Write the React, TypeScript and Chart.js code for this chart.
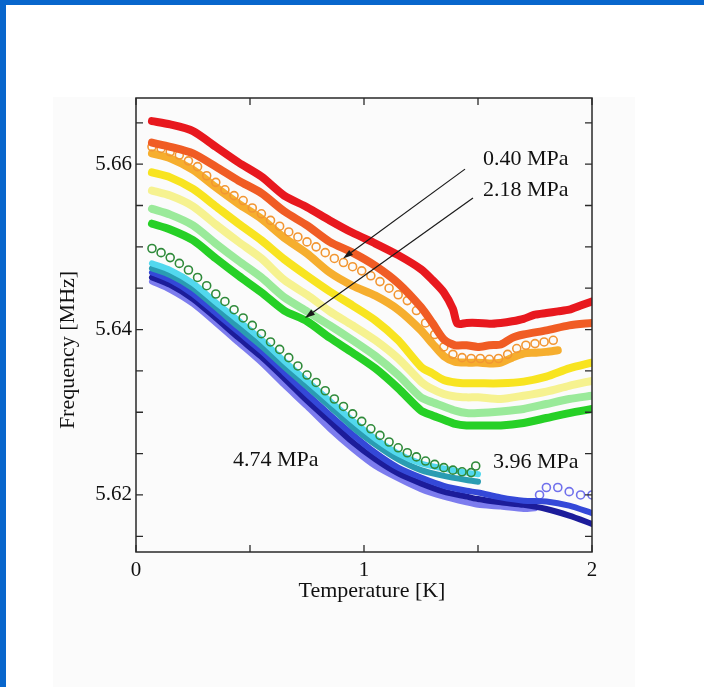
import { useEffect, useRef } from "react";
import { Chart, registerables } from "chart.js";

Chart.register(...registerables);

const FONT = '"Liberation Serif", "Times New Roman", serif';

// ---- temperature grids (K) ----
const T_STD = [0.07, 0.15, 0.25, 0.35, 0.45, 0.55, 0.65, 0.75, 0.85, 0.95, 1.05, 1.15, 1.25, 1.3, 1.35, 1.4, 1.45, 1.5, 1.6, 1.7, 1.8, 1.9, 2.0];
const T_RED = [0.07, 0.15, 0.25, 0.35, 0.45, 0.55, 0.65, 0.75, 0.85, 0.95, 1.05, 1.15, 1.25, 1.3, 1.35, 1.39, 1.41, 1.45, 1.5, 1.55, 1.6, 1.65, 1.7, 1.75, 1.8, 1.85, 1.9, 1.95, 2.0];
const T_ORANGE_RED = [0.07, 0.15, 0.25, 0.35, 0.45, 0.55, 0.65, 0.75, 0.85, 0.95, 1.05, 1.15, 1.25, 1.3, 1.35, 1.4, 1.45, 1.5, 1.55, 1.6, 1.65, 1.7, 1.8, 1.9, 2.0];
const T_AMBER = [0.07, 0.15, 0.25, 0.35, 0.45, 0.55, 0.65, 0.75, 0.85, 0.95, 1.05, 1.15, 1.25, 1.3, 1.35, 1.4, 1.45, 1.5, 1.55, 1.6, 1.65, 1.7, 1.75, 1.8, 1.85];
const T_FINE = [0.07, 0.11, 0.15, 0.19, 0.23, 0.27, 0.31, 0.35, 0.39, 0.43, 0.47, 0.51, 0.55, 0.59, 0.63, 0.67, 0.71, 0.75, 0.79, 0.83, 0.87, 0.91, 0.95, 0.99, 1.03, 1.07, 1.11, 1.15, 1.19, 1.23, 1.27, 1.31, 1.35, 1.39, 1.43, 1.47, 1.51, 1.55, 1.59, 1.63, 1.67, 1.71, 1.75, 1.79, 1.83];
const T_DARK_GREEN = [0.07, 0.11, 0.15, 0.19, 0.23, 0.27, 0.31, 0.35, 0.39, 0.43, 0.47, 0.51, 0.55, 0.59, 0.63, 0.67, 0.71, 0.75, 0.79, 0.83, 0.87, 0.91, 0.95, 0.99, 1.03, 1.07, 1.11, 1.15, 1.19, 1.23, 1.27, 1.31, 1.35, 1.39, 1.43, 1.47, 1.49];
const T_LOW = [0.07, 0.15, 0.25, 0.35, 0.45, 0.55, 0.65, 0.75, 0.85, 0.95, 1.05, 1.15, 1.25, 1.35, 1.45, 1.5];
const T_LOW_LONG = [0.07, 0.15, 0.25, 0.35, 0.45, 0.55, 0.65, 0.75, 0.85, 0.95, 1.05, 1.15, 1.25, 1.35, 1.45, 1.5, 1.6, 1.7, 1.8, 1.9, 2.0];
const T_VIOLET = [0.07, 0.15, 0.25, 0.35, 0.45, 0.55, 0.65, 0.75, 0.85, 0.95, 1.05, 1.15, 1.25, 1.35, 1.45, 1.5, 1.6, 1.7, 1.75];
const T_VIOLET_TAIL = [1.77, 1.8, 1.85, 1.9, 1.95, 2.0];

// ---- resonance frequency (MHz) ----
const F_RED = [5.6652, 5.6648, 5.664, 5.6621, 5.6602, 5.6585, 5.6562, 5.6548, 5.6532, 5.6517, 5.6504, 5.649, 5.6473, 5.646, 5.6445, 5.6425, 5.6407, 5.6408, 5.6408, 5.6407, 5.6408, 5.641, 5.6413, 5.6418, 5.642, 5.6422, 5.6424, 5.6429, 5.6434];
const F_ORANGE_RED = [5.6626, 5.6621, 5.6613, 5.6597, 5.658, 5.6565, 5.6543, 5.6526, 5.6506, 5.6493, 5.6477, 5.6456, 5.6427, 5.6408, 5.6388, 5.6381, 5.6381, 5.6379, 5.6381, 5.6382, 5.639, 5.6394, 5.6399, 5.6405, 5.6408];
const F_ORANGE_OPEN = [5.6621, 5.6619, 5.6615, 5.6611, 5.6604, 5.6597, 5.6586, 5.6578, 5.6569, 5.6562, 5.6556, 5.6547, 5.654, 5.6532, 5.6525, 5.6518, 5.6512, 5.6506, 5.65, 5.6493, 5.6486, 5.6481, 5.6476, 5.6471, 5.6465, 5.6458, 5.645, 5.6442, 5.6435, 5.6423, 5.6408, 5.6394, 5.6379, 5.637, 5.6366, 5.6365, 5.6365, 5.6364, 5.6365, 5.637, 5.6377, 5.6381, 5.6383, 5.6385, 5.6387];
const F_AMBER = [5.6613, 5.6607, 5.6593, 5.6572, 5.6552, 5.6534, 5.6511, 5.6492, 5.6469, 5.6453, 5.6441, 5.6424, 5.6399, 5.6383, 5.6368, 5.6361, 5.636, 5.636, 5.6359, 5.636, 5.6366, 5.6371, 5.6372, 5.6373, 5.6375];
const F_YELLOW = [5.659, 5.6584, 5.657, 5.6549, 5.6528, 5.6508, 5.6485, 5.6465, 5.6446, 5.6429, 5.6411, 5.6387, 5.6355, 5.6347, 5.6339, 5.6336, 5.6335, 5.6335, 5.6335, 5.6337, 5.6343, 5.6353, 5.636];
const F_PALE_YELLOW = [5.6568, 5.6562, 5.6549, 5.6527, 5.6506, 5.6486, 5.646, 5.6442, 5.6422, 5.6405, 5.6387, 5.6365, 5.6337, 5.6328, 5.6322, 5.6319, 5.6318, 5.6318, 5.6316, 5.632, 5.6325, 5.6332, 5.6338];
const F_LIGHT_GREEN = [5.6546, 5.6539, 5.6526, 5.6504, 5.6483, 5.6463, 5.6439, 5.6422, 5.6405, 5.6387, 5.6368, 5.6345, 5.6318, 5.6312, 5.6307, 5.6302, 5.6299, 5.6299, 5.6301, 5.6304, 5.631, 5.6316, 5.632];
const F_GREEN = [5.6528, 5.6521, 5.6508, 5.6486, 5.6465, 5.6445, 5.6423, 5.641, 5.639, 5.6372, 5.6353, 5.6329, 5.6302, 5.6296, 5.6291, 5.6286, 5.6284, 5.6284, 5.6284, 5.6287, 5.6293, 5.6299, 5.6304];
const F_DARK_GREEN = [5.6498, 5.6493, 5.6487, 5.648, 5.6472, 5.6463, 5.6453, 5.6443, 5.6434, 5.6424, 5.6414, 5.6405, 5.6395, 5.6385, 5.6376, 5.6366, 5.6356, 5.6345, 5.6336, 5.6326, 5.6316, 5.6307, 5.6298, 5.6289, 5.628, 5.6272, 5.6264, 5.6257, 5.6251, 5.6246, 5.6241, 5.6237, 5.6233, 5.623, 5.6228, 5.6227, 5.6235];
const F_CYAN = [5.648, 5.6472, 5.6456, 5.6433, 5.6411, 5.6388, 5.6362, 5.6338, 5.6314, 5.629, 5.6268, 5.625, 5.6238, 5.6232, 5.6227, 5.6225];
const F_TEAL = [5.6474, 5.6466, 5.645, 5.6427, 5.6403, 5.638, 5.6355, 5.6331, 5.6307, 5.6282, 5.6261, 5.6243, 5.623, 5.6223, 5.6218, 5.6216];
const F_BLUE = [5.6469, 5.646, 5.6443, 5.642, 5.6397, 5.6374, 5.6348, 5.6322, 5.6297, 5.6273, 5.6251, 5.6233, 5.6221, 5.6211, 5.6205, 5.6203, 5.6197, 5.6193, 5.6192, 5.6187, 5.6178];
const F_NAVY = [5.6463, 5.6454, 5.6437, 5.6414, 5.639, 5.6367, 5.6341, 5.6314, 5.6289, 5.6264, 5.6243, 5.6226, 5.6214, 5.6204, 5.6198, 5.6195, 5.6191, 5.6188, 5.6183, 5.6175, 5.6165];
const F_VIOLET = [5.6458, 5.6448, 5.6431, 5.6408, 5.6384, 5.636, 5.6333, 5.6307, 5.628, 5.6256, 5.6235, 5.622, 5.6207, 5.6198, 5.6191, 5.6188, 5.6186, 5.6183, 5.6184];
const F_VIOLET_TAIL = [5.62, 5.6209, 5.6209, 5.6204, 5.62, 5.62];

// ---- axes ----
const X_MIN = 0;
const X_MAX = 2;
const X_STEP = 0.5;
const Y_MIN = 5.6131;
const Y_MAX = 5.668;
const Y_STEP = 0.005;
const Y_LABEL_STEP = 0.02;
const X_TITLE = "Temperature [K]";
const Y_TITLE = "Frequency [MHz]";

// ---- annotations (data coordinates) ----
const LABELS = [
  { text: "0.40 MPa", t: 1.522, f: 5.6606 },
  { text: "2.18 MPa", t: 1.522, f: 5.6568 },
  { text: "4.74 MPa", t: 0.425, f: 5.6242 },
  { text: "3.96 MPa", t: 1.566, f: 5.624 },
];
const ARROWS = [
  { from: [1.443, 5.6594], to: [0.908, 5.6486] },
  { from: [1.478, 5.6559], to: [0.741, 5.6414] },
];

const pts = (ts: number[], fs: number[]) => fs.map((f, i) => ({ x: ts[i], y: f }));

function band(data: { x: number; y: number }[], color: string, width = 8) {
  return {
    data,
    showLine: true,
    borderColor: color,
    borderWidth: width,
    borderCapStyle: "round" as const,
    borderJoinStyle: "round" as const,
    tension: 0.25,
    pointRadius: 0,
    fill: false,
  };
}

function rings(data: { x: number; y: number }[], color: string) {
  return {
    data,
    showLine: false,
    borderColor: color,
    backgroundColor: "rgba(255,255,255,0)",
    pointRadius: 4,
    pointBorderWidth: 1.6,
    pointBorderColor: color,
    pointBackgroundColor: "rgba(255,255,255,0)",
    fill: false,
  };
}

const isLabelled = (v: number) => {
  const k = Math.round(v / Y_LABEL_STEP);
  return Math.abs(v - k * Y_LABEL_STEP) < 1e-6;
};

const framePlugin = {
  id: "frameAndNotes",
  afterDatasetsDraw(chart: any) {
    const { ctx, chartArea: a, scales } = chart;
    const x = scales.x;
    const y = scales.y;
    ctx.save();

    // frame and inward ticks
    ctx.strokeStyle = "#2a2a2a";
    ctx.lineWidth = 1.5;
    ctx.strokeRect(a.left, a.top, a.right - a.left, a.bottom - a.top);
    const TL = 7;
    ctx.lineWidth = 1.3;
    ctx.beginPath();
    for (const t of x.ticks) {
      const px = x.getPixelForValue(t.value);
      ctx.moveTo(px, a.bottom);
      ctx.lineTo(px, a.bottom - TL);
      ctx.moveTo(px, a.top);
      ctx.lineTo(px, a.top + TL);
    }
    for (const t of y.ticks) {
      const py = y.getPixelForValue(t.value);
      ctx.moveTo(a.left, py);
      ctx.lineTo(a.left + TL, py);
      ctx.moveTo(a.right, py);
      ctx.lineTo(a.right - TL, py);
    }
    ctx.stroke();

    // frequency tick labels
    ctx.fillStyle = "#111";
    ctx.font = `21px ${FONT}`;
    ctx.textAlign = "right";
    ctx.textBaseline = "middle";
    for (const t of y.ticks) {
      const v = Number(t.value);
      if (isLabelled(v)) ctx.fillText(v.toFixed(2), a.left - 4, y.getPixelForValue(v));
    }

    // arrows
    ctx.strokeStyle = "#1a1a1a";
    ctx.fillStyle = "#1a1a1a";
    ctx.lineWidth = 1.2;
    for (const ar of ARROWS) {
      const x0 = x.getPixelForValue(ar.from[0]);
      const y0 = y.getPixelForValue(ar.from[1]);
      const x1 = x.getPixelForValue(ar.to[0]);
      const y1 = y.getPixelForValue(ar.to[1]);
      const ang = Math.atan2(y1 - y0, x1 - x0);
      const HL = 10;
      const HW = 3.2;
      const bx = x1 - HL * Math.cos(ang);
      const by = y1 - HL * Math.sin(ang);
      ctx.beginPath();
      ctx.moveTo(x0, y0);
      ctx.lineTo(bx, by);
      ctx.stroke();
      ctx.beginPath();
      ctx.moveTo(x1, y1);
      ctx.lineTo(bx + HW * Math.sin(ang), by - HW * Math.cos(ang));
      ctx.lineTo(bx - HW * Math.sin(ang), by + HW * Math.cos(ang));
      ctx.closePath();
      ctx.fill();
    }

    // pressure labels
    ctx.fillStyle = "#111";
    ctx.font = `22px ${FONT}`;
    ctx.textBaseline = "middle";
    ctx.textAlign = "left";
    for (const l of LABELS) {
      ctx.fillText(l.text, x.getPixelForValue(l.t), y.getPixelForValue(l.f));
    }

    // axis titles
    ctx.textAlign = "center";
    ctx.fillText(X_TITLE, (a.left + a.right) / 2 + 8, a.bottom + 39);
    ctx.translate(a.left - 68, (a.top + a.bottom) / 2 + 25);
    ctx.rotate(-Math.PI / 2);
    ctx.fillText(Y_TITLE, 0, 0);
    ctx.restore();
  },
};

function FrequencyChart() {
  const ref = useRef<HTMLCanvasElement | null>(null);

  useEffect(() => {
    if (!ref.current) return;
    const chart = new Chart(ref.current, {
      type: "line",
      data: {
        datasets: [
          band(pts(T_RED, F_RED), "#e8181e"),
          band(pts(T_ORANGE_RED, F_ORANGE_RED), "#f05c24"),
          rings(pts(T_FINE, F_ORANGE_OPEN), "#f29632"),
          band(pts(T_AMBER, F_AMBER), "#f6ae2e"),
          band(pts(T_STD, F_YELLOW), "#f8e420"),
          band(pts(T_STD, F_PALE_YELLOW), "#f6f290"),
          band(pts(T_STD, F_LIGHT_GREEN), "#9aea9a"),
          band(pts(T_STD, F_GREEN), "#26d026"),
          rings(pts(T_DARK_GREEN, F_DARK_GREEN), "#2f8a3a"),
          band(pts(T_LOW, F_CYAN), "#52d8ee", 6),
          band(pts(T_LOW, F_TEAL), "#2a9cb2", 6),
          band(pts(T_LOW_LONG, F_BLUE), "#3448d8", 6),
          band(pts(T_LOW_LONG, F_NAVY), "#1c1c9a", 6),
          band(pts(T_VIOLET, F_VIOLET), "#7c7cee", 6),
          rings(pts(T_VIOLET_TAIL, F_VIOLET_TAIL), "#7070ec"),
        ] as any,
      },
      options: {
        animation: false,
        responsive: false,
        maintainAspectRatio: false,
        events: [],
        layout: { padding: { left: 0, top: 98, right: 112, bottom: 0 } },
        plugins: { legend: { display: false }, tooltip: { enabled: false } },
        scales: {
          x: {
            type: "linear",
            min: X_MIN,
            max: X_MAX,
            grid: { display: false, drawTicks: false },
            border: { display: false },
            afterFit: (s: any) => {
              s.height = 135;
            },
            ticks: {
              stepSize: X_STEP,
              autoSkip: false,
              maxRotation: 0,
              padding: 6,
              color: "#111",
              font: { family: FONT, size: 21 },
              callback: (v: any) => (Number.isInteger(Number(v)) ? String(v) : ""),
            },
          },
          y: {
            type: "linear",
            min: Y_MIN,
            max: Y_MAX,
            grid: { display: false, drawTicks: false },
            border: { display: false },
            afterFit: (s: any) => {
              s.width = 136;
            },
            ticks: {
              display: false,
              stepSize: Y_STEP,
              includeBounds: false,
              autoSkip: false,
            },
          },
        },
      },
      plugins: [framePlugin],
    });
    return () => chart.destroy();
  }, []);

  return <canvas ref={ref} width={704} height={687} style={{ display: "block", position: "absolute", left: 0, top: 0 }} />;
}

export default function App() {
  return (
    <div style={{ position: "fixed", left: 0, top: 0, width: 704, height: 687, background: "#ffffff", overflow: "hidden" }}>
      <div style={{ position: "absolute", left: 53, top: 97, width: 582, height: 590, background: "#fbfbfb" }} />
      <FrequencyChart />
      <div style={{ position: "absolute", left: 0, top: 0, width: 704, height: 5, background: "#0866cc" }} />
      <div style={{ position: "absolute", left: 0, top: 0, width: 6, height: 687, background: "#0866cc" }} />
    </div>
  );
}
